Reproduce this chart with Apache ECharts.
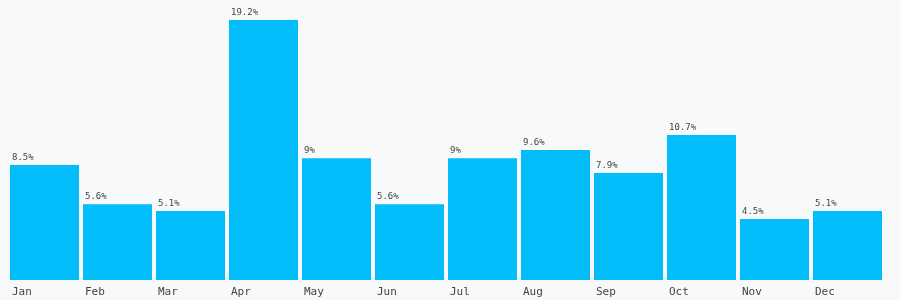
<!DOCTYPE html>
<html><head><meta charset="utf-8">
<script src="https://cdn.jsdelivr.net/npm/echarts@6/dist/echarts.min.js"></script>
<style>html,body{margin:0;padding:0;background:#f8f9fb;}#c{width:900px;height:300px;}</style>
</head><body><div id="c"></div>
<script>
const categories = ['Jan','Feb','Mar','Apr','May','Jun','Jul','Aug','Sep','Oct','Nov','Dec'];
const values = [8.5, 5.6, 5.1, 19.2, 9, 5.6, 9, 9.6, 7.9, 10.7, 4.5, 5.1];
const tickLabels = categories.concat(['']);
const chart = echarts.init(document.getElementById('c'));
chart.setOption({
  backgroundColor: '#f8f9fb',
  animation: false,
  grid: {left: 8, right: 16, top: 20, bottom: 20},
  xAxis: [{
    type: 'category', data: categories,
    axisLine: {show: false}, axisTick: {show: false}, axisLabel: {show: false}
  }, {
    type: 'category', data: tickLabels, boundaryGap: false, position: 'bottom',
    axisLine: {show: false}, axisTick: {show: false},
    axisLabel: {align: 'left', padding: [0, 0, 0, 4], margin: 7, interval: 0,
      fontFamily: 'DejaVu Sans Mono', fontSize: 11, color: '#444'}
  }],
  yAxis: {type: 'value', min: 0, max: 19.2, show: false, splitLine: {show: false}},
  series: [{
    type: 'bar', data: values, xAxisIndex: 0, barCategoryGap: 4,
    itemStyle: {color: '#03bdfb'},
    label: {show: true, position: [2, -12], formatter: '{c}%',
      fontFamily: 'DejaVu Sans Mono', fontSize: 9, color: '#444'}
  }]
});
</script></body></html>
